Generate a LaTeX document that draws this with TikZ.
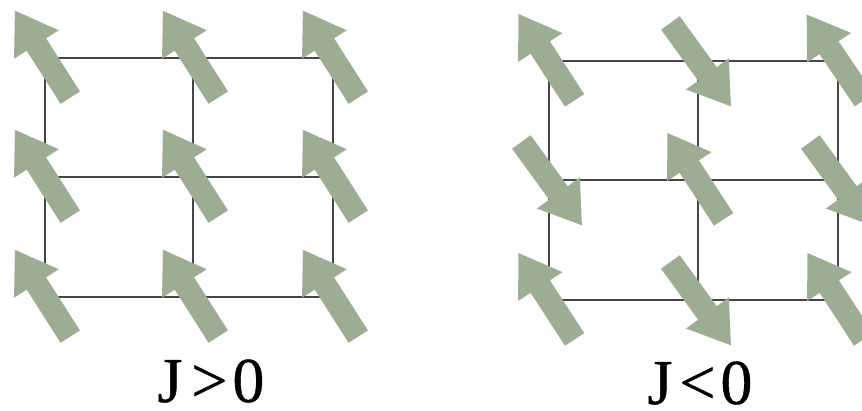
\documentclass[tikz,border=0pt]{standalone}
\usepackage{fontspec}
\setmainfont{Liberation Serif}
\newfontfamily\labelfont[FakeBold=0.6]{Liberation Serif}
\definecolor{spingreen}{RGB}{157,173,148}
\definecolor{gridgray}{RGB}{70,70,70}
\tikzset{
  x=1pt, y=1pt,
  lattice/.style={draw=gridgray, line width=1.3pt},
  % one spin: tail at -47, tip at +56 along the local x axis
  spin/.pic={
    \fill[spingreen] (-47,-11.5) -- (16,-11.5) -- (16,-26.5) -- (56,0)
      -- (16,26.5) -- (16,11.5) -- (-47,11.5) -- cycle;
  },
  coupling/.style={font=\labelfont\fontsize{64}{72}\selectfont, inner sep=0pt, anchor=base},
}
\begin{document}
\begin{tikzpicture}
\useasboundingbox (0,0) rectangle (862,411);

% ferromagnetic lattice
\draw[lattice] (45,114) rectangle (333,353);
\draw[lattice] (193,114) -- (193,353);
\draw[lattice] (45,234) -- (333,234);

% antiferromagnetic lattice
\draw[lattice] (549,111) rectangle (838,350);
\draw[lattice] (698,111) -- (698,350);
\draw[lattice] (549,231) -- (838,231);

% aligned spins
\foreach \x in {45,193,333}
  \foreach \y in {114,234,353}
    \pic[rotate=122.5] at (\x,\y) {spin};

% alternating spins
\pic[rotate=123]   at (549,350) {spin};
\pic[rotate=-54]   at (698,350) {spin};
\pic[rotate=124]   at (838,350) {spin};
\pic[rotate=-54]   at (549,231) {spin};
\pic[rotate=123]   at (698,231) {spin};
\pic[rotate=-54]   at (838,231) {spin};
\pic[rotate=123]   at (549,111) {spin};
\pic[rotate=-54]   at (698,111) {spin};
\pic[rotate=123]   at (838,111) {spin};

\node[coupling] (ferro) at (211,9) {J\hspace{9pt}>\hspace{5pt}0};
\node[coupling] (antiferro) at (700,7) {J\hspace{7pt}<\hspace{5pt}0};
\end{tikzpicture}
\end{document}
